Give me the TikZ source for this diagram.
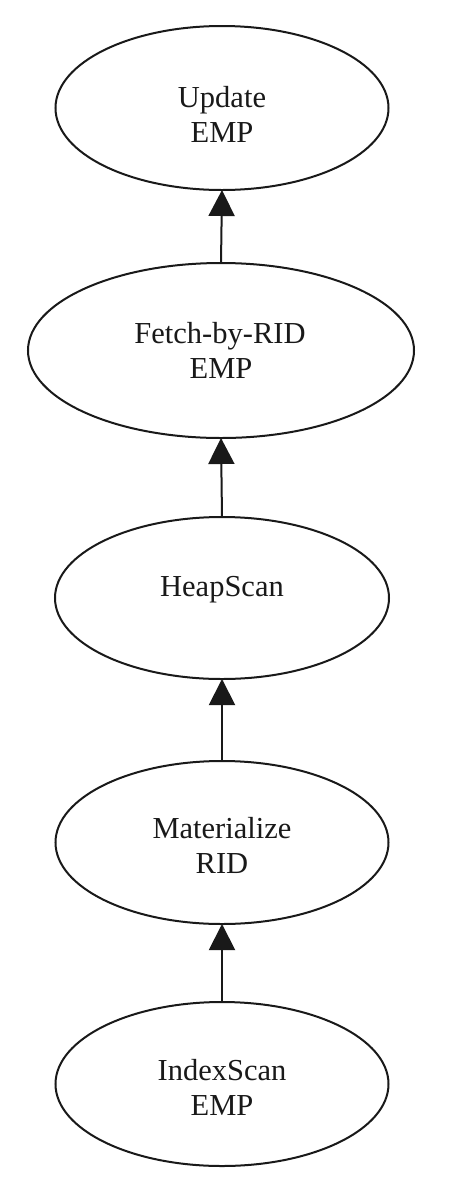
\documentclass[tikz,border=0pt]{standalone}
\usepackage{fontspec}
\setmainfont{Liberation Serif}
\usetikzlibrary{shapes.geometric,arrows.meta}
\begin{document}
\begin{tikzpicture}[x=1pt,y=-1pt,
  ell/.style={draw=black!90,line width=2pt,ellipse,inner sep=0pt,outer sep=0pt},
  lbl/.style={anchor=base,inner sep=0pt,font=\fontsize{30.5}{35}\selectfont,text=black!90},
  edge/.style={draw=black!90,line width=2pt,-{Triangle[length=26pt,width=26pt]}}]
\useasboundingbox (0,0) rectangle (462,1195);
\node[ell,minimum width=333pt,minimum height=164pt] (update) at (222,108) {};
\node[ell,minimum width=386pt,minimum height=175pt] (fetch) at (221,350.5) {};
\node[ell,minimum width=334pt,minimum height=162pt] (heap) at (222,598) {};
\node[ell,minimum width=333pt,minimum height=163pt] (mat) at (222,842.5) {};
\node[ell,minimum width=333pt,minimum height=164pt] (index) at (222,1084) {};
\node[lbl] (t1a) at (222,107) {Update};
\node[lbl] (t1b) at (222,142) {EMP};
\node[lbl] (t2a) at (220,343) {Fetch-by-RID};
\node[lbl] (t2b) at (221,378) {EMP};
\node[lbl] (t3) at (222,596) {HeapScan};
\node[lbl] (t4a) at (222,838) {Materialize};
\node[lbl] (t4b) at (222,873) {RID};
\node[lbl] (t5a) at (222,1080) {IndexScan};
\node[lbl] (t5b) at (222,1115) {EMP};
\draw[edge] (fetch.north) -- (update.south);
\draw[edge] (heap.north) -- (fetch.south);
\draw[edge] (mat.north) -- (heap.south);
\draw[edge] (index.north) -- (mat.south);
\end{tikzpicture}
\end{document}
